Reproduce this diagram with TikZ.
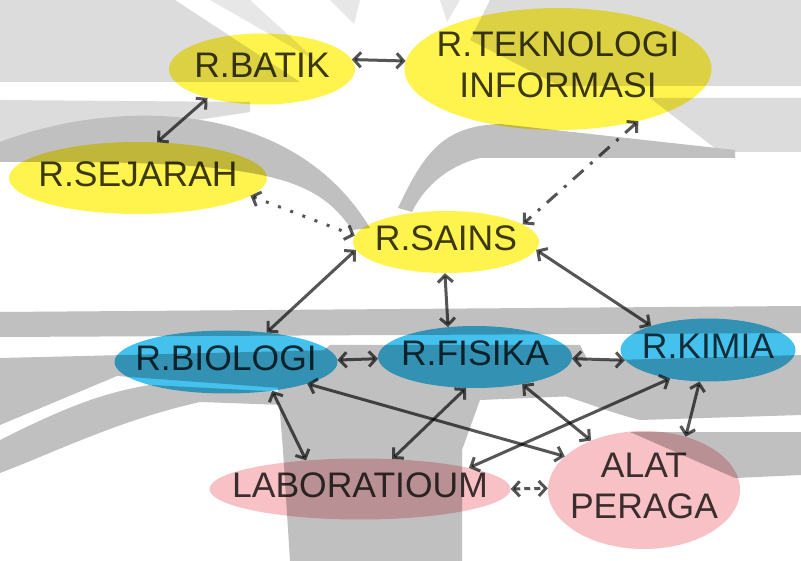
\documentclass[tikz,border=0pt]{standalone}
\usepackage{fontspec}
\setmainfont{Liberation Sans}
\usetikzlibrary{arrows.meta,shapes.geometric}
\definecolor{ruangkuning}{HTML}{FFF34D}
\definecolor{ruangbiru}{HTML}{45C1EE}
\definecolor{ruangmerah}{HTML}{F7C1C5}
\definecolor{garis}{HTML}{555555}
\definecolor{latar}{HTML}{C0C0C0}
\definecolor{latarmuda}{HTML}{DCDCDC}
\definecolor{teks}{HTML}{3C3C3C}
\newcommand{\ruang}[1]{\makebox[0pt]{\begin{tabular}{@{}c@{}}#1\end{tabular}}}
\tikzset{
            ruang/.style={ellipse, inner sep=0pt, text=teks,
                font=\fontsize{35.5}{41}\selectfont},
            kuning/.style={ruang, fill=ruangkuning},
            biru/.style={ruang, fill=ruangbiru},
            merah/.style={ruang, fill=ruangmerah},
            hubung/.style={draw=garis, line width=3pt,
                {Straight Barb[length=7pt,width=15pt]}-{Straight Barb[length=7pt,width=15pt]}},
            titik/.style={hubung, dash pattern=on 3pt off 10pt},
            titikgaris/.style={hubung, dash pattern=on 14pt off 9pt on 3pt off 9pt},
            putus/.style={hubung, dash pattern=on 6pt off 4pt}
        }

\begin{document}
\begin{tikzpicture}[x=1pt, y=-1pt]
    \useasboundingbox (0,0) rectangle (801,561);
    \fill[white] (0,0) rectangle (801,561);
    % latar
    \fill[latarmuda] (0,0) -- (175,0) -- (300,82) -- (0,82) -- cycle;
    \fill[latarmuda!70!white] (210,0) -- (250,0) -- (318,62) -- cycle;
    \fill[latarmuda!70!white] (330,0) -- (360,0) -- (354,24) -- cycle;
    \fill[latarmuda!70!white] (440,0) -- (460,0) -- (447,22) -- cycle;
    \fill[latarmuda] (490,0) -- (801,0) -- (801,86) -- (560,86) -- (470,40) -- cycle;
    \fill[latarmuda] (0,100) -- (250,102) -- (250,112) -- (0,150) -- cycle;
    \fill[latarmuda] (650,98) -- (801,98) -- (801,152) -- (720,152) -- cycle;
    \fill[latar] (0,142) .. controls (110,100) and (290,95) .. (370,228)
        -- (352,230) .. controls (315,175) and (260,160) .. (0,162) -- cycle;
    \fill[latar] (398,208) .. controls (425,150) and (445,126) .. (500,124)
        -- (735,150) -- (735,158) -- (480,158)
        .. controls (450,165) and (425,185) .. (412,212) -- cycle;
    \fill[latar] (0,312) -- (801,306) -- (801,333) -- (0,337) -- cycle;
    \fill[latar] (0,358) -- (335,350) -- (335,392) -- (117,376) -- (0,425) -- cycle;
    \fill[latar] (0,440) .. controls (60,410) and (100,393) .. (150,385) -- (285,392)
        -- (285,405) -- (200,402) .. controls (120,420) and (60,450) .. (0,473) -- cycle;
    \fill[latar] (330,345) -- (580,345) -- (600,385) -- (600,395) -- (480,400)
        -- (462,450) -- (462,561) -- (290,561) -- (283,450) -- (278,388) -- cycle;
    \fill[latar] (540,362) -- (801,355) -- (801,415) -- (640,420)
        .. controls (600,410) and (570,395) .. (540,390) -- cycle;
    \fill[latar] (630,432) -- (801,432) -- (801,475) -- (735,478) -- cycle;
    \begin{scope}[blend mode=multiply]
        \node[kuning, minimum width=186pt, minimum height=71pt] (batik) at (262,69) {\ruang{R.BATIK}};
        \node[kuning, minimum width=307pt, minimum height=122pt] (ti) at (558,69) {\ruang{R.TEKNOLOGI\\INFORMASI}};
        \node[kuning, minimum width=258pt, minimum height=72pt] (sejarah) at (138,178) {\ruang{R.SEJARAH}};
        \node[kuning, minimum width=186pt, minimum height=62pt] (sains) at (446,242) {\ruang{R.SAINS}};
        \node[biru, minimum width=223pt, minimum height=63pt] (biologi) at (226,362) {\ruang{R.BIOLOGI}};
        \node[biru, minimum width=194pt, minimum height=62pt] (fisika) at (475,357) {\ruang{R.FISIKA}};
        \node[biru, minimum width=175pt, minimum height=63pt] (kimia) at (708,350) {\ruang{R.KIMIA}};
        \node[merah, minimum width=301pt, minimum height=61pt] (lab) at (360,489) {\ruang{LABORATIOUM}};
        \node[merah, minimum width=192pt, minimum height=118pt] (alat) at (644,490) {\ruang{ALAT\\PERAGA}};

        \draw[hubung] (batik.6) -- (ti.177);
        \draw[hubung] (batik.208) -- (sejarah.62);
        \draw[titik] (sejarah.351) -- (sains.176);
        \draw[titikgaris] (ti.327) -- (sains.13);
        \draw[hubung] (sains.185) -- (biologi.36);
        \draw[hubung] (sains.268) -- (fisika.132);
        \draw[hubung] (sains.355) -- (kimia.157);
        \draw[hubung] (biologi.1) -- (fisika.181);
        \draw[hubung] (fisika.359) -- (kimia.187);
        \draw[hubung] (biologi.328) -- (lab.152);
        \draw[hubung] (biologi.345) -- (alat.157);
        \draw[hubung] (fisika.254) -- (lab.43);
        \draw[hubung] (fisika.330) -- (alat.137);
        \draw[hubung] (kimia.217) -- (lab.11);
        \draw[hubung] (kimia.255) -- (alat.52);
        \draw[putus] (lab.0) -- (alat.179);
    \end{scope}
\end{tikzpicture}
\end{document}
